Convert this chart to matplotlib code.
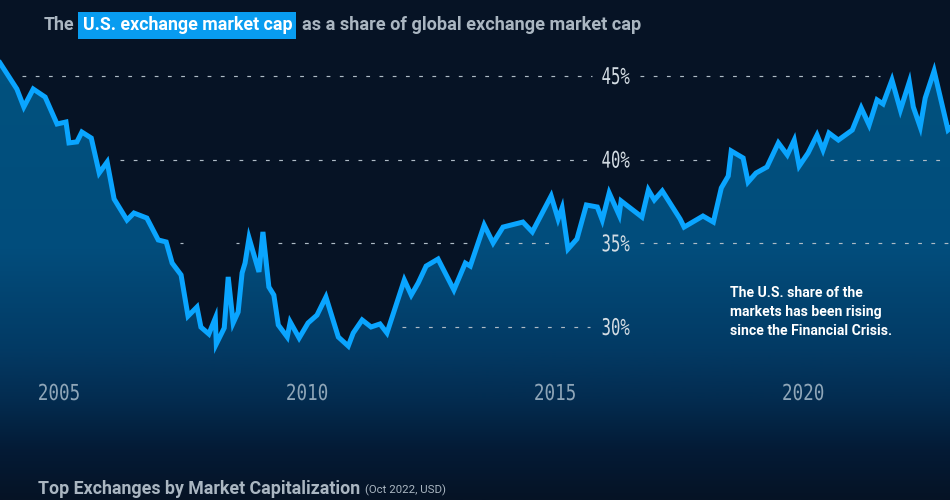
import numpy as np
import matplotlib
matplotlib.use("Agg")
import matplotlib.pyplot as plt
from matplotlib.colors import LinearSegmentedColormap
from matplotlib.patches import Rectangle
from matplotlib.patheffects import AbstractPathEffect
from matplotlib.transforms import Affine2D

years = [2003.81,2004.15,2004.29,2004.48,2004.72,2004.96,2005.14,2005.20,2005.36,2005.46,2005.65,2005.81,2005.97,2006.11,2006.37,2006.51,2006.77,2007.00,2007.16,2007.28,2007.46,2007.60,2007.78,2007.86,2008.02,2008.15,2008.17,2008.33,2008.41,2008.51,2008.61,2008.69,2008.75,2008.83,2009.03,2009.11,2009.23,2009.33,2009.42,2009.60,2009.66,2009.84,2010.02,2010.20,2010.38,2010.63,2010.83,2010.93,2011.11,2011.29,2011.47,2011.61,2011.96,2012.10,2012.24,2012.40,2012.64,2012.96,2013.19,2013.29,2013.57,2013.75,2013.95,2014.35,2014.54,2014.92,2015.06,2015.14,2015.26,2015.44,2015.63,2015.85,2015.95,2016.09,2016.29,2016.33,2016.75,2016.88,2017.00,2017.16,2017.52,2017.60,2017.98,2018.19,2018.35,2018.49,2018.55,2018.79,2018.89,2019.05,2019.27,2019.50,2019.68,2019.82,2019.92,2020.10,2020.28,2020.40,2020.52,2020.71,2020.99,2021.17,2021.33,2021.49,2021.61,2021.79,2021.96,2022.14,2022.22,2022.36,2022.46,2022.64,2022.92]
share = [45.78,44.22,43.15,44.22,43.74,42.13,42.25,41.00,41.06,41.65,41.29,39.20,39.86,37.65,36.39,36.81,36.51,35.20,35.08,33.82,33.11,30.65,31.19,29.99,29.58,30.53,28.98,29.94,32.99,30.24,30.89,33.23,33.82,35.32,33.29,35.68,32.39,31.91,30.12,29.40,30.30,29.34,30.24,30.71,31.79,29.40,28.86,29.64,30.42,30.00,30.18,29.64,32.81,31.91,32.63,33.64,34.06,32.21,33.82,33.64,36.09,35.02,35.97,36.27,35.68,37.83,36.45,37.11,34.66,35.26,37.29,37.17,36.39,38.01,36.69,37.53,36.57,38.19,37.59,38.13,36.45,35.97,36.63,36.27,38.31,39.02,40.52,40.10,38.66,39.20,39.56,41.00,40.28,41.17,39.62,40.40,41.47,40.58,41.59,41.17,41.77,43.09,42.07,43.57,43.33,44.76,42.97,44.64,43.15,41.95,43.68,45.30,41.77]
year_ticks = [2005, 2010, 2015, 2020]
pct_ticks = [45, 40, 35, 30]
pct_labels = ["45%", "40%", "35%", "30%"]

W, H = 950, 500
BG = "#061325"
LINE = "#0aa5ff"
GREY = "#aab6c1"
XLIM = (2003.81, 2022.96)
YLIM = (19.66, 49.54)

UI = ["Roboto", "DejaVu Sans"]
MONO = ["DejaVu Sans Mono"]
px = lambda p: p * 0.72


class SqueezeX(AbstractPathEffect):
    """Condense a text horizontally around a pivot (0 left, .5 centre, 1 right)."""
    def __init__(self, sx, pivot):
        super().__init__()
        self.sx, self.pivot = sx, pivot

    def draw_path(self, renderer, gc, tpath, affine, rgbFace=None):
        ext = tpath.get_extents()
        p = ext.x0 + ext.width * self.pivot
        t = Affine2D().translate(-p, 0).scale(self.sx, 1).translate(p, 0)
        renderer.draw_path(gc, tpath, t + affine, rgbFace)


fig = plt.figure(figsize=(W / 100, H / 100), dpi=100, facecolor=BG)
ax = fig.add_axes([0, 0, 1, 1], facecolor=BG)
ax.set_xlim(*XLIM)
ax.set_ylim(*YLIM)
ax.axis("off")

# gradient area under the line
cmap = LinearSegmentedColormap.from_list("area", [
    (0.00, "#01537f"), (0.50, "#024d7c"), (0.70, "#033a64"),
    (0.80, "#032c50"), (0.90, "#041b36"), (1.00, BG)])
poly = ax.fill_between(years + [XLIM[1]], share + [share[-1]], YLIM[0], color="none", lw=0)
grad = np.linspace(0, 1, 256).reshape(-1, 1)
im = ax.imshow(grad, cmap=cmap, aspect="auto", zorder=1,
               extent=[XLIM[0], XLIM[1], YLIM[0], YLIM[1]], origin="upper")
ax.set_xlim(*XLIM)
ax.set_ylim(*YLIM)
path = poly.get_paths()[0]
im.set_clip_path(path, transform=ax.transData)

# dashed guides, broken where the original breaks them (axes-fraction spans)
spans = {45: [(22, 592), (640, 880)],
         40: [(120, 592), (640, 716), (830, 945)],
         35: [(180, 183), (236, 239), (278, 470), (505, 556), (640, 950)],
         30: [(402, 590)]}
tr = ax.get_yaxis_transform()
for val, segs in spans.items():
    for a, b in segs:
        ax.plot([a / W, b / W], [val, val], transform=tr, color="#aebbc6", lw=0.85,
                dashes=(3.2, 8.0), zorder=2)

ax.plot(years + [XLIM[1]], share + [share[-1] + 0.1], color=LINE, lw=3.6,
        solid_joinstyle="miter", zorder=3)

for v, lab in zip(pct_ticks, pct_labels):
    ax.text(630 / W, v - 0.09, lab, transform=tr, ha="right", va="center", color="#d3dce3",
            fontsize=px(23), family=MONO, zorder=4,
            path_effects=[SqueezeX(0.68, 1.0)])
ytick = YLIM[1] - (YLIM[1] - YLIM[0]) * 394 / H
for y in year_ticks:
    ax.text(y, ytick, str(y), ha="center", va="center", color="#8fa6b8",
            fontsize=px(22), family=MONO, zorder=4,
            path_effects=[SqueezeX(0.8, 0.5)])

# header
fx = lambda p: p / W
fy = lambda p: 1 - p / H
fig.add_artist(Rectangle((fx(78), fy(39)), 218 / W, 27 / H, transform=fig.transFigure,
                         facecolor="#089cf0", edgecolor="none", zorder=5))
fig.text(fx(44), fy(25.5), "The", color=GREY, fontsize=px(17.8), weight="bold",
         family=UI, va="center", zorder=6)
fig.text(fx(83), fy(25.5), "U.S. exchange market cap", color="white", fontsize=px(17.8),
         weight="bold", family=UI, va="center", zorder=6)
fig.text(fx(302), fy(25.5), "as a share of global exchange market cap", color=GREY,
         fontsize=px(18.1), weight="bold", family=UI, va="center", zorder=6)

# annotation
for yy, line in zip([293, 312, 331], ["The U.S. share of the", "markets has been rising",
                                      "since the Financial Crisis."]):
    fig.text(fx(730), fy(yy), line, color="white", fontsize=px(14),
             weight="bold", family=UI, va="center", zorder=6)

# footer
fig.text(fx(38), fy(489), "Top Exchanges by Market Capitalization", color=GREY,
         fontsize=px(17.7), weight="bold", family=UI, va="center", zorder=6)
fig.text(fx(365), fy(490.5), "(Oct 2022, USD)", color=GREY, fontsize=px(11.4),
         family=UI, va="center", zorder=6)

fig.savefig("out.png", dpi=100, facecolor=BG)
